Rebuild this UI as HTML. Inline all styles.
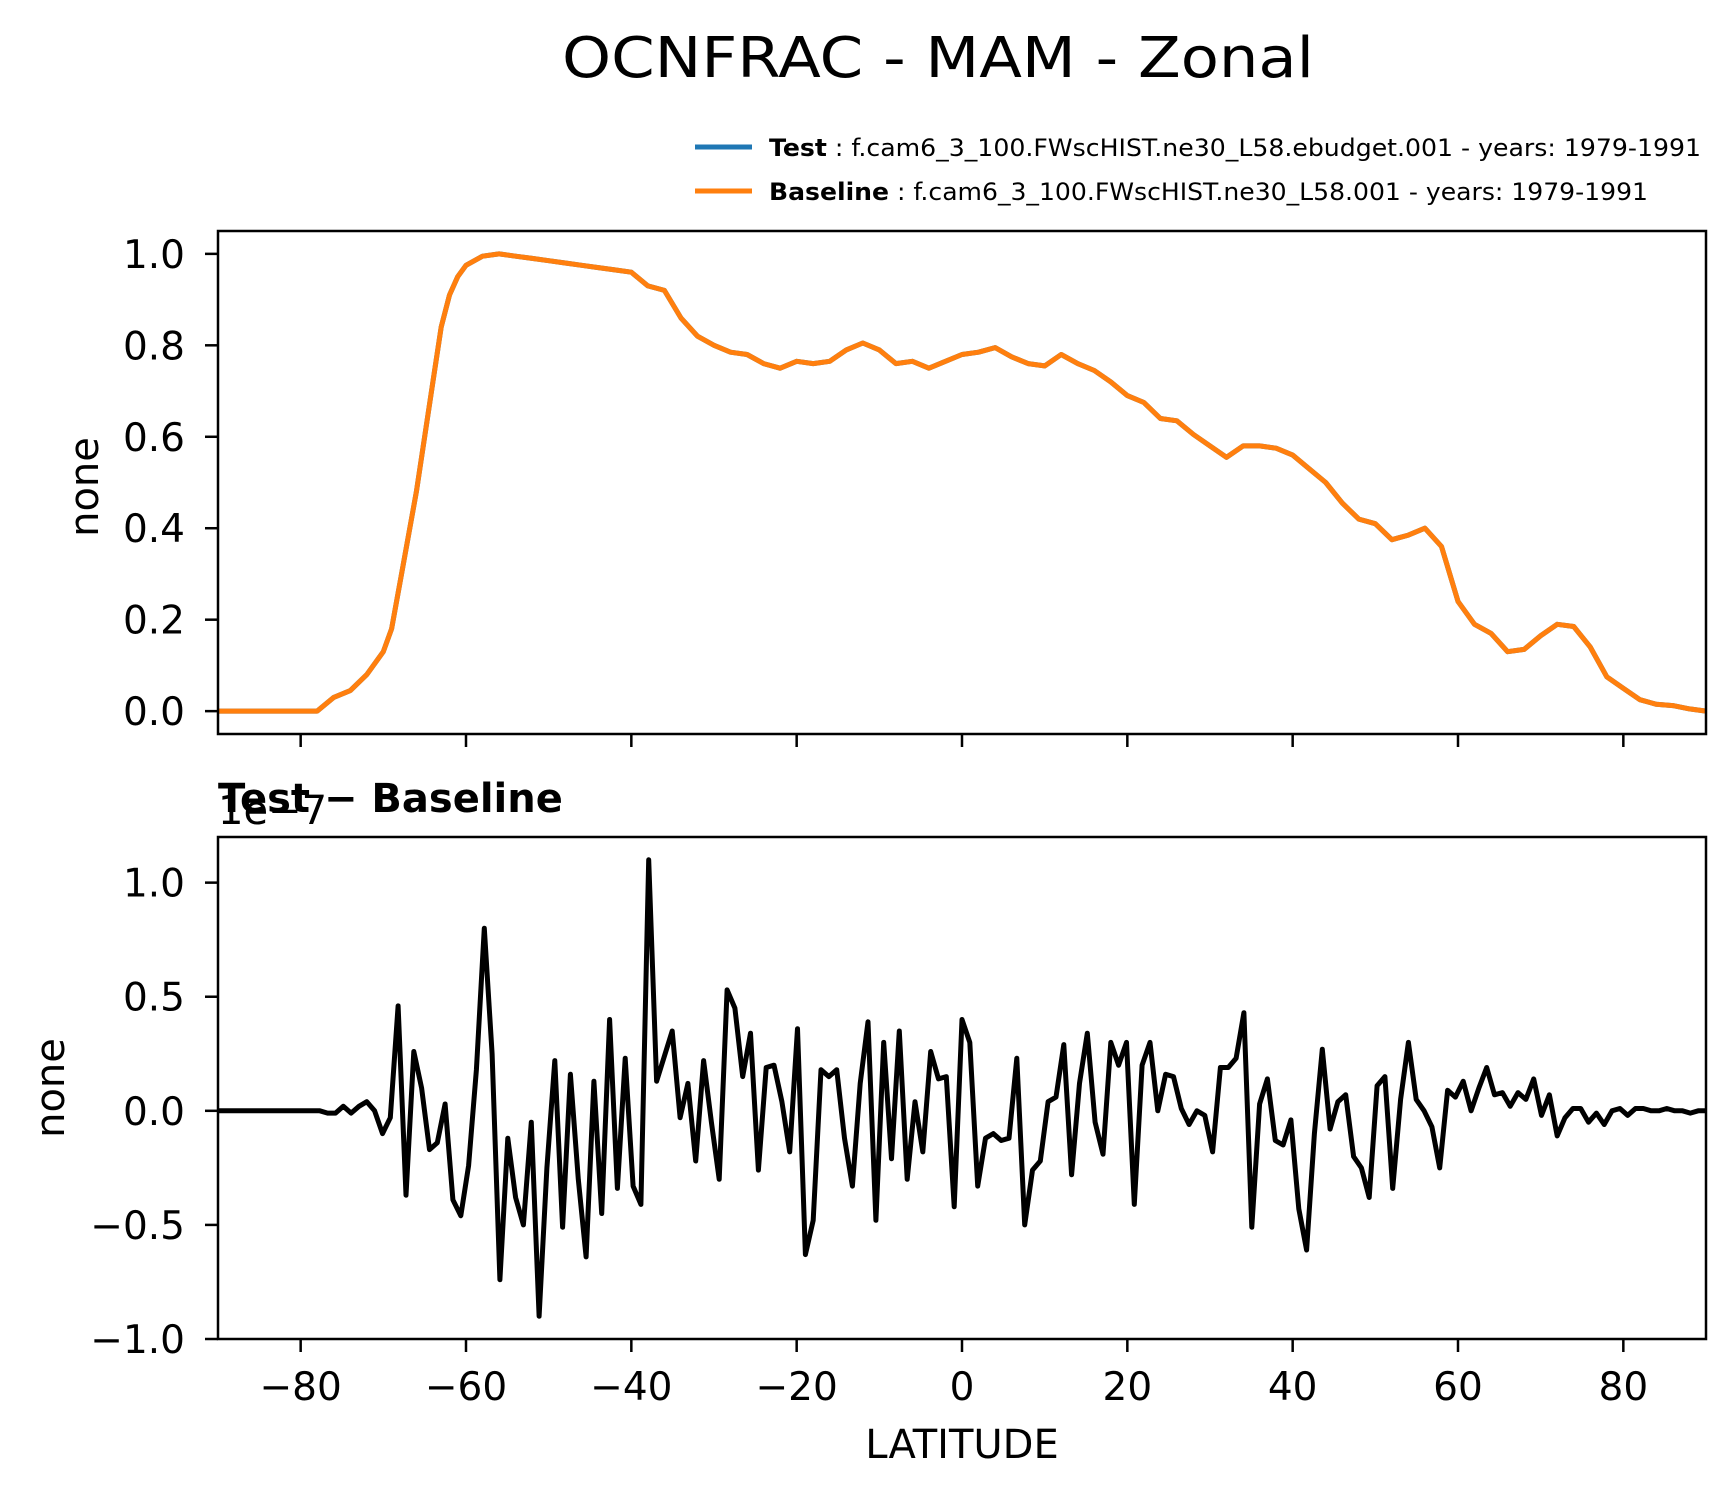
<!DOCTYPE html>
<html><head><meta charset="utf-8"><style>
html,body{margin:0;padding:0;background:#fff;}
svg text{font-family:"DejaVu Sans","Liberation Sans",sans-serif;}
</style></head><body>
<svg id="fig" width="1734" height="1496" viewBox="0 0 1734 1496" xmlns="http://www.w3.org/2000/svg">
<rect width="1734" height="1496" fill="#fff"/>
<text x="938" y="77" font-size="56" text-anchor="middle" textLength="752" lengthAdjust="spacingAndGlyphs">OCNFRAC - MAM - Zonal</text>
<g>
<line x1="695" y1="147" x2="752" y2="147" stroke="#1f77b4" stroke-width="5"/>
<text x="769" y="156" font-size="24" textLength="932" lengthAdjust="spacingAndGlyphs"><tspan font-weight="bold">Test</tspan> : f.cam6_3_100.FWscHIST.ne30_L58.ebudget.001 - years: 1979-1991</text>
<line x1="695" y1="191" x2="752" y2="191" stroke="#ff7f0e" stroke-width="5"/>
<text x="769" y="200" font-size="24" textLength="879" lengthAdjust="spacingAndGlyphs"><tspan font-weight="bold">Baseline</tspan> : f.cam6_3_100.FWscHIST.ne30_L58.001 - years: 1979-1991</text>
</g>
<g id="top"></g>
<g id="bot"></g>
<text x="218" y="812" font-size="40" font-weight="bold">Test − Baseline</text>
<text x="218" y="824" font-size="40">1e−7</text>
<text x="962" y="1458" font-size="40" text-anchor="middle">LATITUDE</text>
<text transform="translate(98,487) rotate(-90)" font-size="40" text-anchor="middle">none</text>
<text transform="translate(64,1088) rotate(-90)" font-size="40" text-anchor="middle">none</text>
</svg>
<script>
const topLats = [-90,-80,-78,-76,-74,-72,-70,-69,-68,-66,-64,-63,-62,-61,-60,-58,-56,-54,-52,-50,-48,-46,-44,-42,-40,-38,-36,-34,-32,-30,-28,-26,-24,-22,-20,-18,-16,-14,-12,-10,-8,-6,-4,-2,0,2,4,6,8,10,12,14,16,18,20,22,24,26,28,30,32,34,36,38,40,42,44,46,48,50,52,54,56,58,60,62,64,66,68,70,72,74,76,78,80,82,84,86,88,90];
const topVals = [0,0,0.0,0.03,0.045,0.08,0.13,0.18,0.28,0.48,0.72,0.84,0.91,0.95,0.975,0.995,1.0,0.995,0.99,0.985,0.98,0.975,0.97,0.965,0.96,0.93,0.92,0.86,0.82,0.8,0.785,0.78,0.76,0.75,0.765,0.76,0.765,0.79,0.805,0.79,0.76,0.765,0.75,0.765,0.78,0.785,0.795,0.775,0.76,0.755,0.78,0.76,0.745,0.72,0.69,0.675,0.64,0.635,0.605,0.58,0.555,0.58,0.58,0.575,0.56,0.53,0.5,0.455,0.42,0.41,0.375,0.385,0.4,0.36,0.24,0.19,0.17,0.13,0.135,0.165,0.19,0.185,0.14,0.075,0.05,0.025,0.015,0.012,0.005,0];
const diffVals = [0,0,0,0,0,0,0,0,0,0,0,0,0,0,-0.01,-0.01,0.02,-0.01,0.02,0.04,0,-0.1,-0.03,0.46,-0.37,0.26,0.1,-0.17,-0.14,0.03,-0.39,-0.46,-0.24,0.18,0.8,0.25,-0.74,-0.12,-0.38,-0.5,-0.05,-0.9,-0.25,0.22,-0.51,0.16,-0.3,-0.64,0.13,-0.45,0.4,-0.34,0.23,-0.33,-0.41,1.1,0.13,0.24,0.35,-0.03,0.12,-0.22,0.22,-0.05,-0.3,0.53,0.45,0.15,0.34,-0.26,0.19,0.2,0.04,-0.18,0.36,-0.63,-0.48,0.18,0.15,0.18,-0.12,-0.33,0.12,0.39,-0.48,0.3,-0.21,0.35,-0.3,0.04,-0.18,0.26,0.14,0.15,-0.42,0.4,0.3,-0.33,-0.12,-0.1,-0.13,-0.12,0.23,-0.5,-0.26,-0.22,0.04,0.06,0.29,-0.28,0.12,0.34,-0.05,-0.19,0.3,0.2,0.3,-0.41,0.2,0.3,0,0.16,0.15,0.01,-0.06,0,-0.02,-0.18,0.19,0.19,0.23,0.43,-0.51,0.03,0.14,-0.13,-0.15,-0.04,-0.43,-0.61,-0.1,0.27,-0.08,0.04,0.07,-0.2,-0.25,-0.38,0.11,0.15,-0.34,0.05,0.3,0.05,0,-0.07,-0.25,0.09,0.06,0.13,0,0.1,0.19,0.07,0.08,0.02,0.08,0.05,0.14,-0.02,0.07,-0.11,-0.03,0.01,0.01,-0.05,-0.01,-0.06,0,0.01,-0.02,0.01,0.01,0,0,0.01,0,0,-0.01,0,0];
const xTicks = [-80,-60,-40,-20,0,20,40,60,80];
const xTickLabels = ["−80","−60","−40","−20","0","20","40","60","80"];
const topYTicks = [0,0.2,0.4,0.6,0.8,1.0];
const topYLabels = ["0.0","0.2","0.4","0.6","0.8","1.0"];
const botYTicks = [-1,-0.5,0,0.5,1.0];
const botYLabels = ["−1.0","−0.5","0.0","0.5","1.0"];

const NS="http://www.w3.org/2000/svg";
const X0=218,X1=1706;
const xs=v=>X0+(v+90)/180*(X1-X0);
const topY0=231,topY1=734, topMin=-0.05, topMax=1.05;
const ysTop=v=>topY1-(v-topMin)/(topMax-topMin)*(topY1-topY0);
const botY0=837,botY1=1339, botMin=-1.0, botMax=1.2;
const ysBot=v=>botY1-(v-botMin)/(botMax-botMin)*(botY1-botY0);

function mk(tag,attrs,parent){const e=document.createElementNS(NS,tag);for(const k in attrs)e.setAttribute(k,attrs[k]);parent.appendChild(e);return e;}

function panel(g,y0,y1,ys,yt,yl,showX,prefix){
  yt.forEach((t,i)=>{
    const y=ys(t);
    const tk=mk('line',{x1:X0-13,x2:X0,y1:y,y2:y,stroke:'#000','stroke-width':2.5},g);
    
    
    const tx=mk('text',{x:X0-33,y:y+14,'font-size':39,'text-anchor':'end'},g);
    tx.textContent=yl[i];
    
    
  });
  xTicks.forEach((t,i)=>{
    const x=xs(t);
    const tk=mk('line',{x1:x,x2:x,y1:y1,y2:y1+13,stroke:'#000','stroke-width':2.5},g);
    
    
    if(showX){
      const tx=mk('text',{x:x,y:1400,'font-size':39,'text-anchor':'middle'},g);
      tx.textContent=xTickLabels[i];
      
      
    }
  });
}
const gt=document.getElementById('top'), gb=document.getElementById('bot');
panel(gt,topY0,topY1,ysTop,topYTicks,topYLabels,false,'top');
panel(gb,botY0,botY1,ysBot,botYTicks,botYLabels,true,'bottom');

let d=topLats.map((la,i)=>(i?'L':'M')+xs(la).toFixed(1)+','+ysTop(topVals[i]).toFixed(1)).join('');
const lt=mk('path',{d:d,fill:'none',stroke:'#1f77b4','stroke-width':5,'stroke-linejoin':'round'},gt);


const lb=mk('path',{d:d,fill:'none',stroke:'#ff7f0e','stroke-width':5,'stroke-linejoin':'round'},gt);



const n=diffVals.length;
let d2=diffVals.map((v,i)=>(i?'L':'M')+xs(-90+i*180/(n-1)).toFixed(1)+','+ysBot(v).toFixed(1)).join('');
const ld=mk('path',{d:d2,fill:'none',stroke:'#000','stroke-width':5,'stroke-linejoin':'round'},gb);



const ft=mk('rect',{x:X0,y:topY0,width:X1-X0,height:topY1-topY0,fill:'none',stroke:'#000','stroke-width':2.5},gt);


const fb=mk('rect',{x:X0,y:botY0,width:X1-X0,height:botY1-botY0,fill:'none',stroke:'#000','stroke-width':2.5},gb);


</script>
</body></html>
